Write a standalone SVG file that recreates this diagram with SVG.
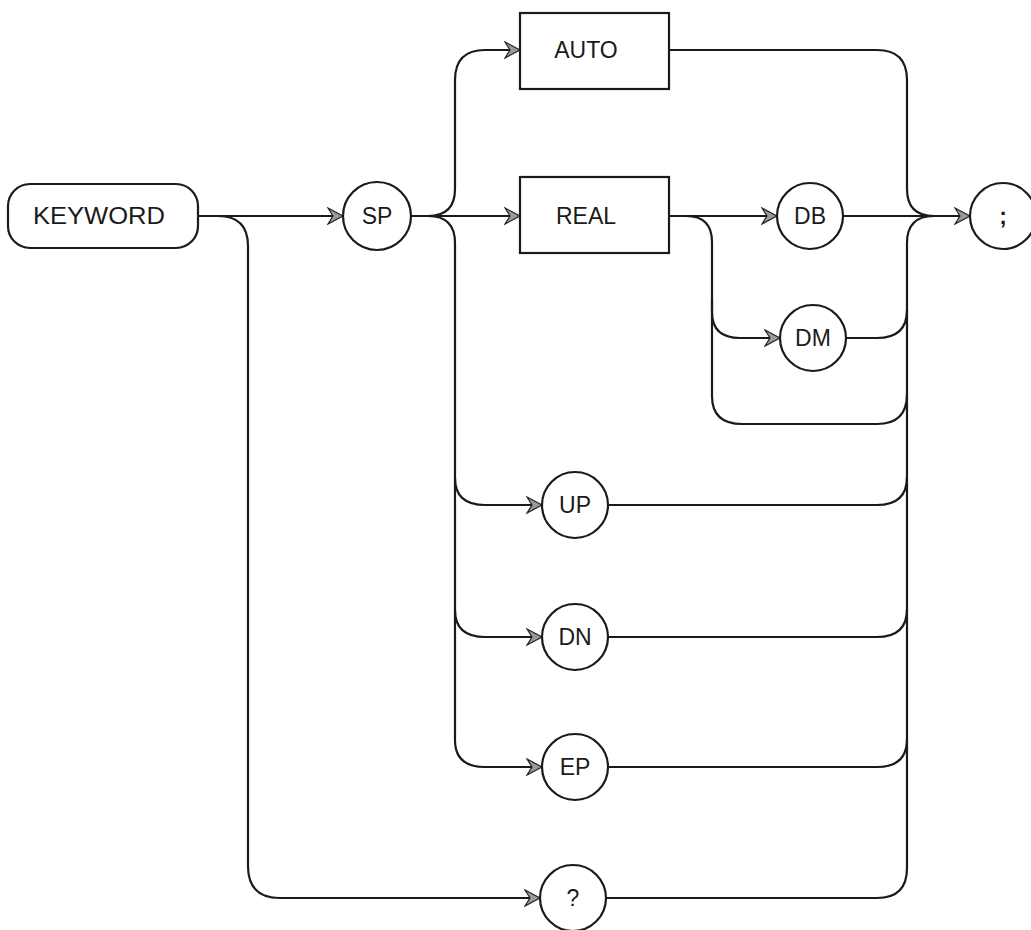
<svg xmlns="http://www.w3.org/2000/svg" width="1031" height="930" viewBox="0 0 1031 930">
<defs>
<marker id="arr" markerUnits="userSpaceOnUse" markerWidth="18" markerHeight="20" refX="16" refY="9" orient="auto">
<path d="M1,1 L16,9 L1,17 L6,9 z" fill="#9a9a9a" stroke="#222" stroke-width="1.2" stroke-linejoin="miter"/>
</marker>
<style>
.n{fill:#fff;stroke:#1a1a1a;stroke-width:2.2}
.t{font-family:"Liberation Sans",Arial,sans-serif;font-size:23px;fill:#1a1a1a;text-anchor:middle;dominant-baseline:central}
.c{fill:none;stroke:#1a1a1a;stroke-width:2.2}
.a{marker-end:url(#arr)}
</style>
</defs>
<rect width="1031" height="930" fill="#fff"/>
<g id="connectors">
<path class="c a" d="M198,216 H343"/>
<path class="c a" d="M218,216 Q248,216 248,246 V866 Q248,898 280,898 H540"/>
<path class="c a" d="M411,216 H520"/>
<path class="c a" d="M428,216 Q455,216 455,189 V80 Q455,50 485,50 H520"/>
<path class="c a" d="M428,216 Q455,216 455,243 V740 Q455,767 485,767 H542"/>
<path class="c a" d="M455,478 Q455,505 485,505 H542"/>
<path class="c a" d="M455,610 Q455,637 485,637 H542"/>
<path class="c" d="M669,50 H877 Q907,50 907,80 V189 Q907,216 934,216"/>
<path class="c a" d="M669,216 H777"/>
<path class="c a" d="M686,216 Q712,216 712,242 V312 Q712,338 740,338 H780"/>
<path class="c" d="M712,300 V396 Q712,424 742,424 H877 Q907,424 907,394"/>
<path class="c a" d="M843,216 H970"/>
<path class="c" d="M846,338 H877 Q907,338 907,310"/>
<path class="c" d="M934,216 Q907,216 907,243 V868 Q907,898 877,898 H606"/>
<path class="c" d="M608,505 H877 Q907,505 907,477"/>
<path class="c" d="M608,637 H877 Q907,637 907,609"/>
<path class="c" d="M608,767 H877 Q907,767 907,739"/>
</g>
<g id="keyword"><rect class="n" x="8" y="184" width="190" height="64" rx="22"/><text class="t" x="99" y="216" textLength="132" lengthAdjust="spacingAndGlyphs">KEYWORD</text></g>
<g id="sp"><circle class="n" cx="377" cy="216" r="34"/><text class="t" x="377" y="216">SP</text></g>
<g id="auto"><rect class="n" x="520" y="13" width="149" height="76"/><text class="t" x="586" y="50">AUTO</text></g>
<g id="real"><rect class="n" x="520" y="177" width="149" height="76"/><text class="t" x="586" y="216">REAL</text></g>
<g id="db"><circle class="n" cx="810" cy="216" r="33"/><text class="t" x="810" y="216">DB</text></g>
<g id="dm"><circle class="n" cx="813" cy="338" r="33"/><text class="t" x="813" y="338">DM</text></g>
<g id="up"><circle class="n" cx="575" cy="505" r="33"/><text class="t" x="575" y="505">UP</text></g>
<g id="dn"><circle class="n" cx="575" cy="637" r="33"/><text class="t" x="575" y="637">DN</text></g>
<g id="ep"><circle class="n" cx="575" cy="767" r="33"/><text class="t" x="575" y="767">EP</text></g>
<g id="query"><circle class="n" cx="573" cy="898" r="33"/><text class="t" x="573" y="898">?</text></g>
<g id="semicolon"><circle class="n" cx="1003" cy="216" r="33"/><text class="t" x="1003" y="216" style="font-weight:bold">;</text></g>
</svg>
